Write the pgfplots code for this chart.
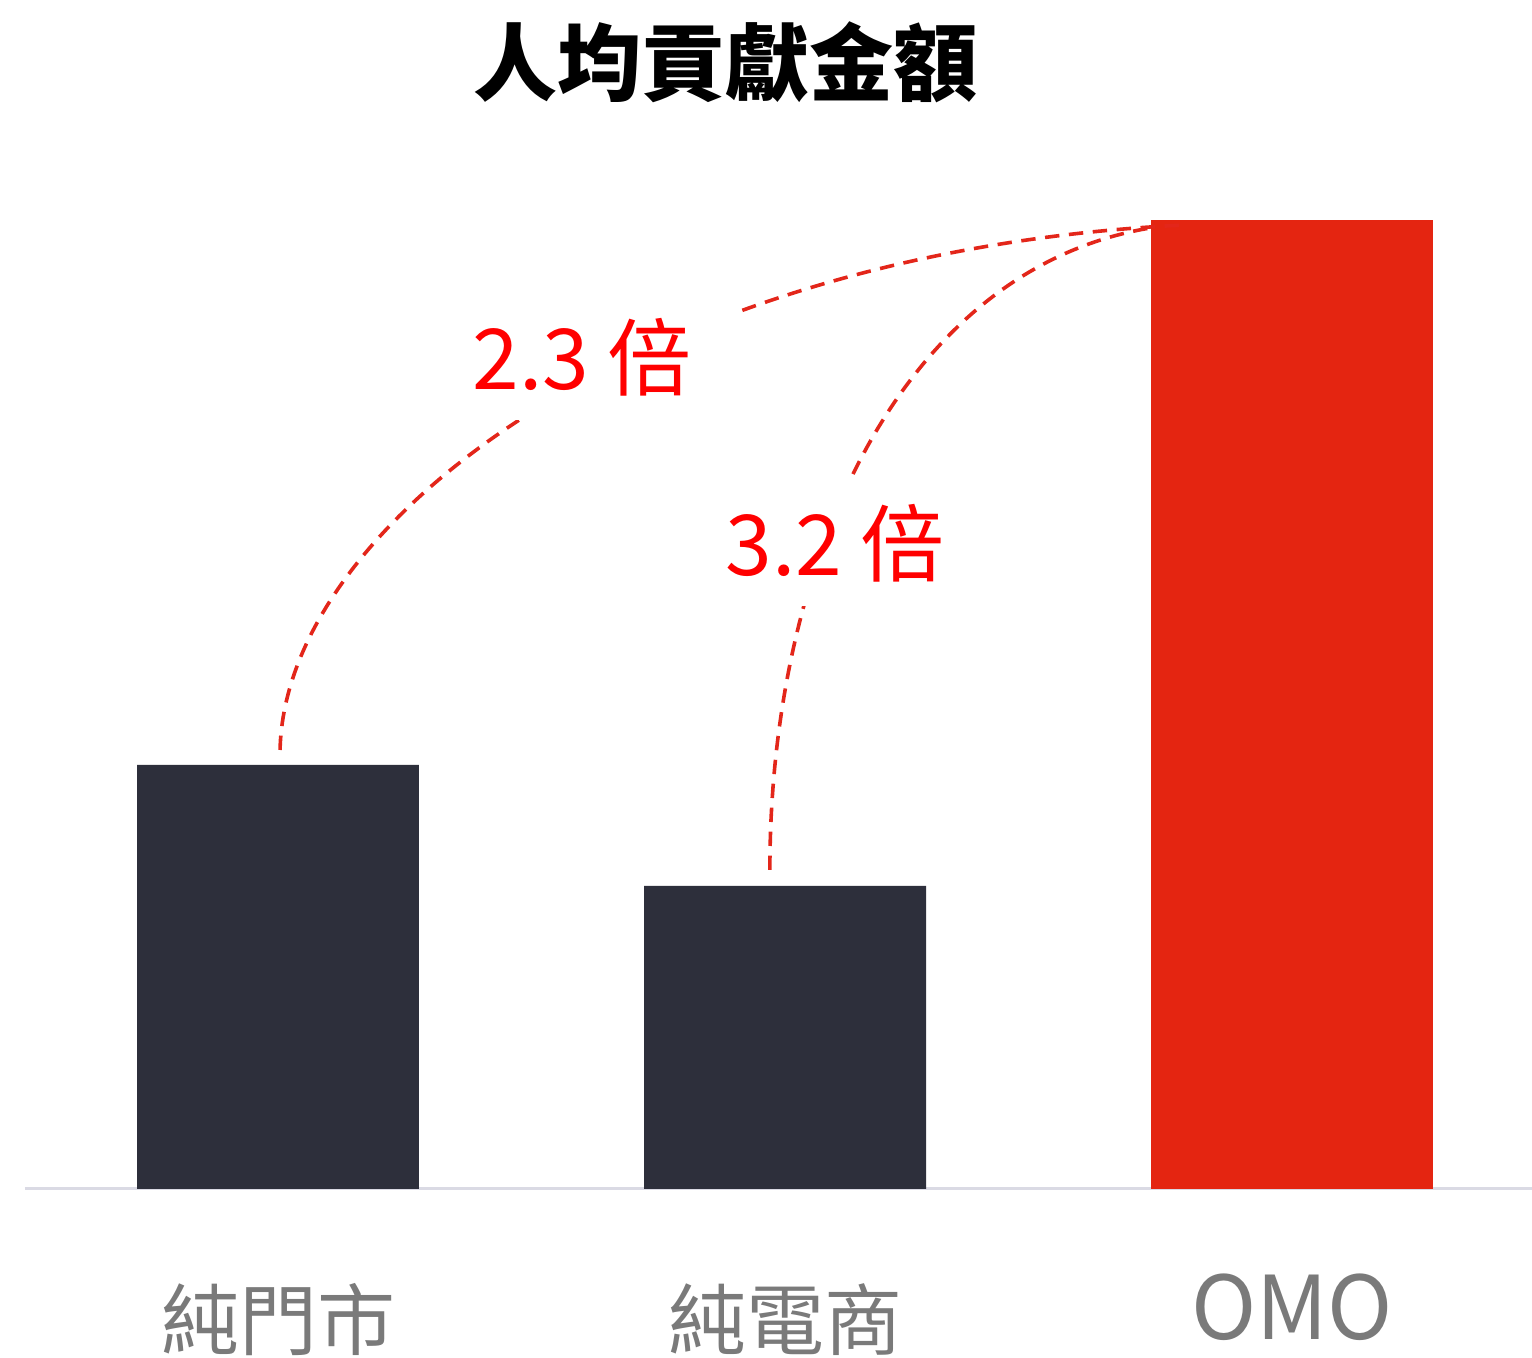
\documentclass[border=0pt]{standalone}
\usepackage{fontspec}
\usepackage{pgfplots}
\pgfplotsset{compat=1.18}
\setmainfont{Noto Sans CJK TC}
\definecolor{darkbar}{HTML}{2D2F3B}
\definecolor{redbar}{HTML}{E42511}
\definecolor{basegray}{HTML}{DADAE4}
\definecolor{labgray}{HTML}{7A7A7A}
\definecolor{dashred}{HTML}{E3261A}
\begin{document}
\begin{tikzpicture}
\begin{axis}[
  scale only axis, width=376.75pt, height=250pt,
  xmin=-0.499, xmax=2.473, ymin=0, ymax=1000,
  axis x line*=bottom, axis y line=none,
  x axis line style={basegray, line width=0.75pt},
  xtick={0,1,2},
  xticklabels={\raisebox{-2.5pt}{純門市},\raisebox{-2.5pt}{純電商},{\fontsize{22}{26}\selectfont OMO}},
  ytick=\empty,
  major tick length=0pt,
  xticklabel style={font=\fontsize{19.5}{24}\selectfont, text=labgray, anchor=base, yshift=-37.75pt},
  ybar, bar width=0.556,
  clip=false,
]
\addplot[fill=darkbar, draw=none, bar shift=0pt] coordinates {(0,424) (1,303)};
\addplot[fill=redbar, draw=none, bar shift=0pt] coordinates {(2,969)};
\draw[dashred, line width=0.9pt, dash pattern=on 3.6pt off 2.4pt] (axis cs:0.004,439) .. controls (axis cs:0.014,669) and (axis cs:0.734,939) .. (axis cs:1.789,964);
\draw[dashred, line width=0.9pt, dash pattern=on 3.6pt off 2.4pt] (axis cs:0.970,319) .. controls (axis cs:0.970,629) and (axis cs:1.227,919) .. (axis cs:1.720,961);
\node[fill=white, text=red, inner xsep=11pt, inner ysep=6pt, font=\fontsize{21}{25}\selectfont] at (axis cs:0.600,832) {2.3 倍};
\node[fill=white, text=red, inner sep=6pt, font=\fontsize{21}{25}\selectfont] at (axis cs:1.099,646) {3.2 倍};
\node[font=\bfseries\fontsize{21}{25}\selectfont] at (axis cs:0.882,1127) {人均貢獻金額};
\end{axis}
\pgfresetboundingbox
\path (-6.25pt,-42.25pt) rectangle (376.75pt,297.25pt);
\end{tikzpicture}
\end{document}
